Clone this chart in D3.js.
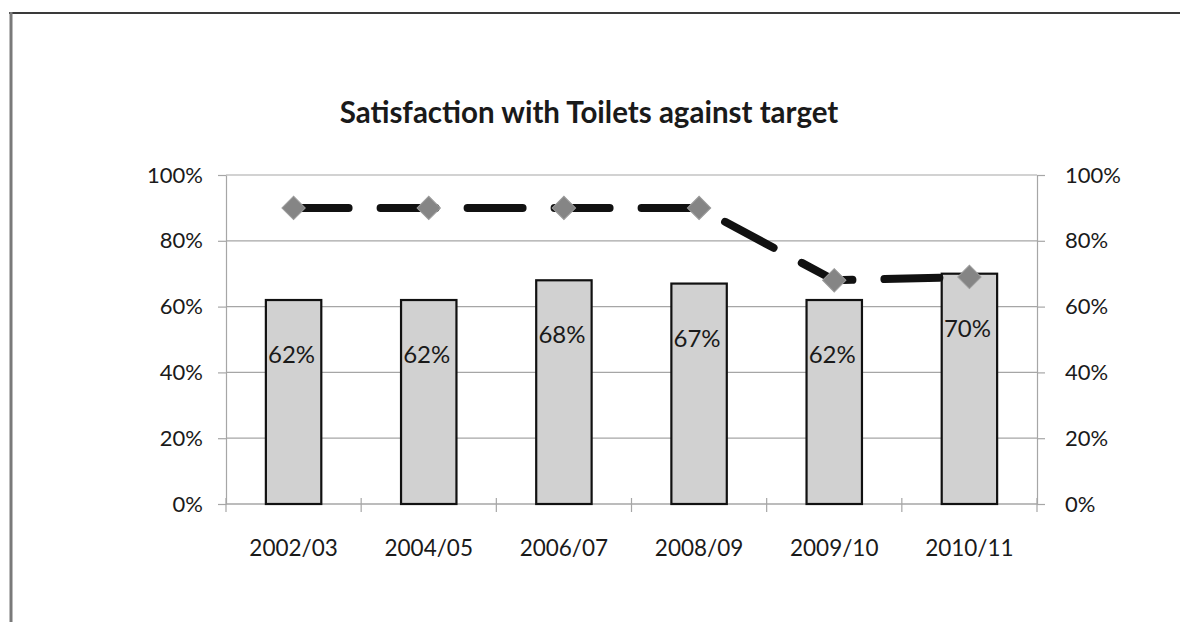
<!DOCTYPE html>
<html>
<head>
<meta charset="utf-8">
<script src="https://cdn.jsdelivr.net/npm/d3@7"></script>
<style>
  html, body { margin: 0; padding: 0; background: #fff; }
  svg { display: block; }
  text { font-family: Lato, "Open Sans", sans-serif; fill: #1a1a1a; }
</style>
</head>
<body>
<svg id="chart" width="1184" height="622"></svg>
<script>
// Survey years, satisfaction score and the target for each year
const categories = ["2002/03", "2004/05", "2006/07", "2008/09", "2009/10", "2010/11"];
const satisfaction = [0.62, 0.62, 0.68, 0.67, 0.62, 0.70];
const target = [0.90, 0.90, 0.90, 0.90, 0.68, 0.69];
const yTicks = [0, 0.2, 0.4, 0.6, 0.8, 1.0];
const title = "Satisfaction with Toilets against target";

const svg = d3.select("#chart");
const plot = { left: 226, right: 1037, top: 175, bottom: 504 };

const x = d3.scaleBand()
  .domain(categories)
  .range([plot.left, plot.right])
  .paddingInner(0.59)
  .paddingOuter(0.295);
const step = x.step();
const cx = d => x(d) + x.bandwidth() / 2;

const y = d3.scaleLinear().domain([0, 1]).range([plot.bottom, plot.top]);
const pct = d3.format(".0%");

// outer frame
svg.append("line").attr("x1", 9).attr("x2", 1180).attr("y1", 13).attr("y2", 13)
  .attr("stroke", "#3a3a3a").attr("stroke-width", 2);
svg.append("line").attr("x1", 11).attr("x2", 11).attr("y1", 12).attr("y2", 622)
  .attr("stroke", "#7a7a7a").attr("stroke-width", 3);

// title
svg.append("text")
  .attr("x", 589).attr("y", 123)
  .attr("text-anchor", "middle")
  .attr("font-size", 29.5).attr("font-weight", 700)
  .text(title);

// horizontal gridlines
svg.append("g").selectAll("line").data(yTicks).join("line")
  .attr("x1", plot.left).attr("x2", plot.right)
  .attr("y1", d => y(d)).attr("y2", d => y(d))
  .attr("stroke", "#a6a6a6").attr("stroke-width", 1.2);

// left & right value axes
const fmtAxis = g => {
  g.select(".domain").attr("stroke", "#a6a6a6").attr("stroke-width", 1.2);
  g.selectAll(".tick line").attr("stroke", "#a6a6a6").attr("stroke-width", 1.2);
  g.selectAll(".tick text").attr("font-size", 22).attr("fill", "#1a1a1a")
    .attr("font-family", "Lato, 'Open Sans', sans-serif");
};
svg.append("g")
  .attr("transform", `translate(${plot.left},0)`)
  .call(d3.axisLeft(y).tickValues(yTicks).tickFormat(pct).tickSize(8).tickPadding(15).tickSizeOuter(0))
  .call(fmtAxis);
svg.append("g")
  .attr("transform", `translate(${plot.right},0)`)
  .call(d3.axisRight(y).tickValues(yTicks).tickFormat(pct).tickSize(8).tickPadding(20).tickSizeOuter(0))
  .call(fmtAxis);

// category axis: baseline, boundary ticks and labels
const xAxis = svg.append("g");
xAxis.append("line")
  .attr("x1", plot.left).attr("x2", plot.right)
  .attr("y1", plot.bottom).attr("y2", plot.bottom)
  .attr("stroke", "#a6a6a6").attr("stroke-width", 1.2);
xAxis.selectAll("line.tick").data(d3.range(categories.length + 1)).join("line")
  .attr("class", "tick")
  .attr("x1", i => plot.left + i * step).attr("x2", i => plot.left + i * step)
  .attr("y1", plot.bottom - 6).attr("y2", plot.bottom + 8)
  .attr("stroke", "#a6a6a6").attr("stroke-width", 1.2);
xAxis.selectAll("text").data(categories).join("text")
  .attr("x", d => cx(d)).attr("y", 556)
  .attr("text-anchor", "middle")
  .attr("font-size", 22.5)
  .text(d => d);

// satisfaction bars
svg.append("g").selectAll("rect").data(categories).join("rect")
  .attr("x", d => x(d))
  .attr("width", x.bandwidth())
  .attr("y", (d, i) => y(satisfaction[i]))
  .attr("height", (d, i) => plot.bottom - y(satisfaction[i]))
  .attr("fill", "#d1d1d1")
  .attr("stroke", "#111")
  .attr("stroke-width", 2.2);

// bar value labels
svg.append("g").selectAll("text").data(categories).join("text")
  .attr("x", d => cx(d) - 2)
  .attr("y", (d, i) => y(satisfaction[i]) + 63)
  .attr("text-anchor", "middle")
  .attr("font-size", 24)
  .text((d, i) => pct(satisfaction[i]));

// target line, long-dash style
const line = d3.line()
  .x((d, i) => cx(categories[i]))
  .y(d => y(d));
svg.append("path")
  .datum(target)
  .attr("d", line)
  .attr("fill", "none")
  .attr("stroke", "#111")
  .attr("stroke-width", 8)
  .attr("stroke-linecap", "round")
  .attr("stroke-dasharray", "55,32");

// target markers
svg.append("g").selectAll("path").data(target).join("path")
  .attr("transform", (d, i) => `translate(${cx(categories[i])},${y(d)}) rotate(45)`)
  .attr("d", d3.symbol(d3.symbolSquare, 272)())
  .attr("fill", "#858585")
  .attr("stroke", "#9c9c9c")
  .attr("stroke-width", 1);
</script>
</body>
</html>
